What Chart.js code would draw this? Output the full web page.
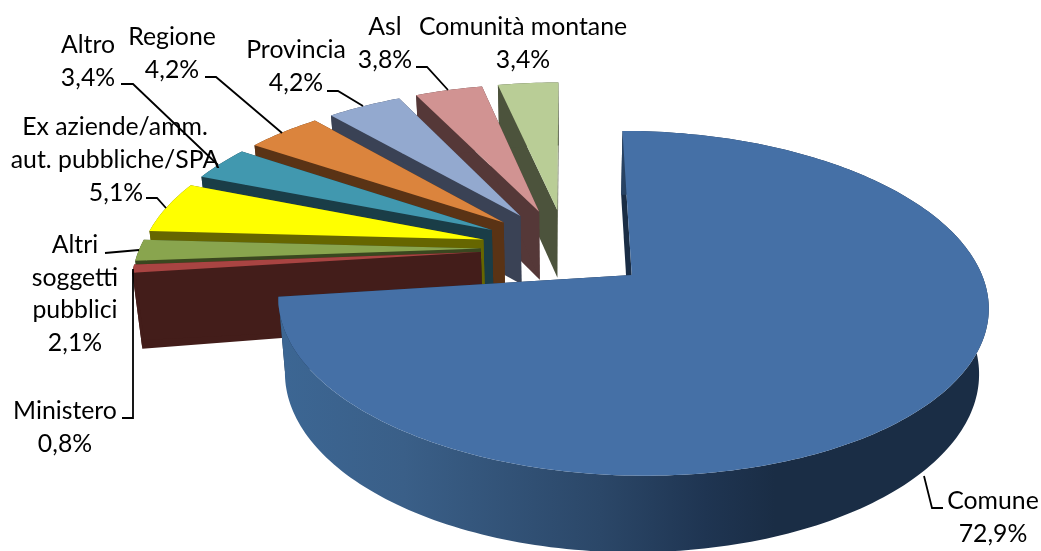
<!DOCTYPE html>
<html><head><meta charset="utf-8">
<script src="https://cdn.jsdelivr.net/npm/chart.js@4"></script>
<style>html,body{margin:0;padding:0;background:#fff}canvas{display:block}</style>
</head><body>
<canvas id="c" width="1041" height="551"></canvas>
<script>
const categories = ["Comune","Ministero","Altri soggetti pubblici","Ex aziende/amm. aut. pubbliche/SPA","Altro","Regione","Provincia","Asl","Comunità montane"];
const shares = [72.9,0.8,2.1,5.1,3.4,4.2,4.2,3.8,3.4];
const topColors = ["#4570a6","#a94442","#89a54e","#ffff00","#4198af","#db843d","#93a9cf","#d19392","#b9cd96"];
const sideColors = ["#1a2d45","#431d1a","#3a471f","#666600","#1a3d47","#5a3315","#3a4255","#553838","#4c533c"];
const labelTexts = [
 {lines:["Comune","72,9%"],x:993,y:501},
 {lines:["Ministero","0,8%"],x:65,y:411},
 {lines:["Altri","soggetti","pubblici","2,1%"],x:75,y:245},
 {lines:["Ex aziende/amm.","aut. pubbliche/SPA"],x:115,y:127},
 {lines:["5,1%"],x:116,y:193},
 {lines:["Altro","3,4%"],x:88,y:45},
 {lines:["Regione","4,2%"],x:172,y:37},
 {lines:["Provincia","4,2%"],x:296,y:50},
 {lines:["Asl","3,8%"],x:385,y:27},
 {lines:["Comunità montane","3,4%"],x:523,y:27}
];
const leaders = [
 [[943,508],[932,508],[924,476]],
 [[122,418],[133,418],[133,269]],
 [[105,253],[139,250]],
 [[146,198],[157,198],[166,208]],
 [[121,84],[133,84],[218,165]],
 [[205,77],[216,77],[282,133]],
 [[327,91],[338,91],[363,106]],
 [[416,67],[427,67],[448,90]]
];
const view = {cx:566,cy:248,A:341,B:159,k:0.16,explode:0.25,
  botScale:0.977,botCy:317,botB:165,botTilt:-0.014,lineH:32.7,font:'24.8px Lato'};

function proj(u,v,bottom){
  const w=1+view.k*v;
  if(!bottom) return [view.cx+view.A*u/w, view.cy-view.B*v/w];
  const x=view.cx+view.A*view.botScale*u/w;
  return [x, view.botCy-view.botB*v/w+view.botTilt*(x-view.cx)];
}
function slicePts(a0,a1,off,bottom){
  const pts=[]; const n=Math.max(2,Math.ceil((a1-a0)/0.02));
  for(let i=0;i<=n;i++){const t=a0+(a1-a0)*i/n;
    pts.push(proj(off[0]+Math.sin(t),off[1]+Math.cos(t),bottom));}
  return pts;
}
function fillPoly(ctx,pts,fill){
  ctx.beginPath();pts.forEach((p,i)=>i?ctx.lineTo(p[0],p[1]):ctx.moveTo(p[0],p[1]));
  ctx.closePath();ctx.fillStyle=fill;ctx.fill();
}
const pie3d={id:'pie3d',
  beforeDatasetDraw(chart,args){
    const ctx=chart.ctx, arcs=chart.getDatasetMeta(args.index).data;
    ctx.save();
    for(let i=arcs.length-1;i>=0;i--){
      const a0=arcs[i].startAngle+Math.PI/2, a1=arcs[i].endAngle+Math.PI/2, m=(a0+a1)/2;
      const off=[view.explode*Math.sin(m),view.explode*Math.cos(m)];
      const tTop=slicePts(a0,a1,off,false), tBot=slicePts(a0,a1,off,true);
      const apexT=proj(off[0],off[1],false), apexB=proj(off[0],off[1],true);
      let side=sideColors[i];
      fillPoly(ctx,[apexT,tTop[0],tBot[0],apexB],side);
      fillPoly(ctx,[apexT,tTop[tTop.length-1],tBot[tBot.length-1],apexB],side);
      let wall=side;
      if(i===0){
        wall=ctx.createLinearGradient(285,0,985,0);
        wall.addColorStop(0,'#3c6693');wall.addColorStop(0.17,'#3a5f88');
        wall.addColorStop(0.45,'#2b4768');wall.addColorStop(0.6,'#1f3552');wall.addColorStop(0.7,'#1a2d45');wall.addColorStop(1,'#1a2d45');
      }
      fillPoly(ctx,tTop.concat(tBot.slice().reverse()),wall);
      fillPoly(ctx,[apexT].concat(tTop),topColors[i]);
    }
    ctx.restore();
    return false;
  },
  afterDraw(chart){
    const ctx=chart.ctx;ctx.save();
    ctx.strokeStyle='#000';ctx.lineWidth=1.8;
    leaders.forEach(l=>{ctx.beginPath();l.forEach((p,i)=>i?ctx.lineTo(p[0],p[1]):ctx.moveTo(p[0],p[1]));ctx.stroke();});
    ctx.fillStyle='#000';ctx.font=view.font;ctx.textAlign='center';ctx.textBaseline='middle';
    labelTexts.forEach(t=>t.lines.forEach((s,i)=>ctx.fillText(s,t.x,t.y+i*view.lineH)));
    ctx.restore();
  }
};
new Chart(document.getElementById('c'),{
  type:'pie',
  data:{labels:categories,datasets:[{data:shares,backgroundColor:topColors,borderWidth:0}]},
  options:{responsive:false,animation:false,layout:{padding:0},
    plugins:{legend:{display:false},tooltip:{enabled:false},title:{display:false}}},
  plugins:[pie3d]
});
</script>
</body></html>
